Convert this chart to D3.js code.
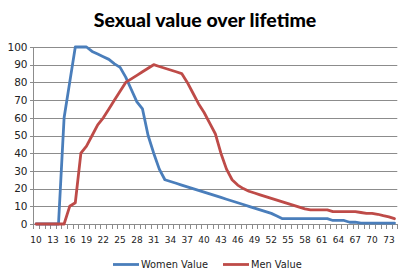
<!DOCTYPE html>
<html>
<head>
<meta charset="utf-8">
<script src="https://cdnjs.cloudflare.com/ajax/libs/d3/7.8.5/d3.min.js"></script>
<style>
   body { margin: 0; background: #fff; }
   svg { display: block; }
</style>
</head>
<body>
<script>
'use strict';

// ages 10..74, one point per year
var ages = d3.range(10, 75);

var womenValue = [
   0, 0, 0, 0, 0, 60, 80, 100, 100, 100,          // 10-19
   97.5, 96, 94.5, 93, 90.5, 88.5, 83, 76, 69, 65, // 20-29
   50, 40, 31, 25, 24, 23, 22, 21, 20, 19,         // 30-39
   18, 17, 16, 15, 14, 13, 12, 11, 10, 9,          // 40-49
   8, 7, 6, 4.5, 3, 3, 3, 3, 3, 3,                 // 50-59
   3, 3, 3, 2, 2, 2, 1, 1, 0.5, 0.5,               // 60-69
   0.5, 0.5, 0.5, 0.5, 0.5                         // 70-74
];

var menValue = [
   0, 0, 0, 0, 0, 0, 10, 12, 40, 44,               // 10-19
   50, 56, 60, 65, 70, 75, 80, 82, 84, 86,         // 20-29
   88, 90, 89, 88, 87, 86, 85, 80, 74, 68,         // 30-39
   63, 57, 51, 40, 31, 25, 22, 20, 18.5, 17.5,     // 40-49
   16.5, 15.5, 14.5, 13.5, 12.5, 11.5, 10.5, 9.5, 8.5, 8, // 50-59
   8, 8, 8, 7, 7, 7, 7, 7, 6.5, 6,                 // 60-69
   6, 5.5, 4.7, 4, 3                               // 70-74
];

var yTicks = d3.range(0, 101, 10);
var xLabelAges = d3.range(10, 75, 3);

var seriesNames = ["Women Value", "Men Value"];
var seriesColors = ["#4a7ebb", "#be4b48"];

window.onload = function(){

   var svg = d3.select("body").append("svg")
      .attr("width", 410)
      .attr("height", 279);

   var x = d3.scaleBand()
      .domain(ages)
      .range([33.3, 397.3]);

   var y = d3.scaleLinear()
      .domain([0, 100])
      .range([224, 47]);

   // title
   svg.append("text")
      .attr("x", 205)
      .attr("y", 27)
      .attr("text-anchor", "middle")
      .style("font-family", "Lato, 'Open Sans', sans-serif")
      .style("font-weight", 900)
      .style("font-size", "19.5px")
      .style("fill", "#000")
      .text("Sexual value over lifetime");

   // horizontal gridlines + y ticks
   var grid = svg.append("g");
   grid.selectAll("line.grid")
      .data(yTicks.filter(function(d){ return d > 0; }))
      .enter().append("line")
      .attr("class", "grid")
      .attr("x1", 30)
      .attr("x2", 397.3)
      .attr("y1", function(d){ return Math.round(y(d)) + 0.5; })
      .attr("y2", function(d){ return Math.round(y(d)) + 0.5; })
      .attr("stroke", "#8c8c8c")
      .attr("stroke-width", 1);

   svg.append("g").selectAll("text")
      .data(yTicks)
      .enter().append("text")
      .attr("x", 27.5)
      .attr("y", function(d){ return y(d); })
      .attr("dy", "0.36em")
      .attr("text-anchor", "end")
      .style("font-family", "'DejaVu Sans', sans-serif")
      .style("font-size", "10.5px")
      .style("fill", "#222")
      .text(function(d){ return d; });

   // left axis line
   svg.append("line")
      .attr("x1", 33.5).attr("x2", 33.5)
      .attr("y1", Math.round(y(100))).attr("y2", Math.round(y(0)) + 1)
      .attr("stroke", "#8c8c8c");

   // bottom axis + tick marks on category boundaries
   svg.append("line")
      .attr("x1", 30).attr("x2", 397.3)
      .attr("y1", Math.round(y(0)) + 0.5).attr("y2", Math.round(y(0)) + 0.5)
      .attr("stroke", "#8c8c8c");

   var edges = ages.map(function(d){ return x(d); }).concat([x.range()[1]]);
   svg.append("g").selectAll("line")
      .data(edges)
      .enter().append("line")
      .attr("x1", function(d){ return Math.round(d) + 0.5; })
      .attr("x2", function(d){ return Math.round(d) + 0.5; })
      .attr("y1", Math.round(y(0)))
      .attr("y2", Math.round(y(0)) + 5)
      .attr("stroke", "#8c8c8c");

   svg.append("g").selectAll("text")
      .data(xLabelAges)
      .enter().append("text")
      .attr("x", function(d){ return x(d) + x.bandwidth() / 2; })
      .attr("y", 243)
      .attr("text-anchor", "middle")
      .style("font-family", "'DejaVu Sans', sans-serif")
      .style("font-size", "9px")
      .style("fill", "#222")
      .text(function(d){ return d; });

   // the two lines
   var line = d3.line()
      .x(function(d, i){ return x(ages[i]) + x.bandwidth() / 2; })
      .y(function(d){ return y(d); });

   [womenValue, menValue].forEach(function(vals, k){
      svg.append("path")
         .attr("d", line(vals))
         .attr("fill", "none")
         .attr("stroke", seriesColors[k])
         .attr("stroke-width", 2.8)
         .attr("stroke-linejoin", "round")
         .attr("stroke-linecap", "round");
   });

   // legend
   var legendX = [113, 223];
   seriesNames.forEach(function(name, k){
      var g = svg.append("g");
      g.append("line")
         .attr("x1", legendX[k]).attr("x2", legendX[k] + 26)
         .attr("y1", 264.5).attr("y2", 264.5)
         .attr("stroke", seriesColors[k])
         .attr("stroke-width", 2.8);
      g.append("text")
         .attr("x", legendX[k] + 28)
         .attr("y", 268)
         .style("font-family", "'DejaVu Sans', sans-serif")
         .style("font-size", "9.8px")
         .style("fill", "#222")
         .text(name);
   });
};
</script>
</body>
</html>
